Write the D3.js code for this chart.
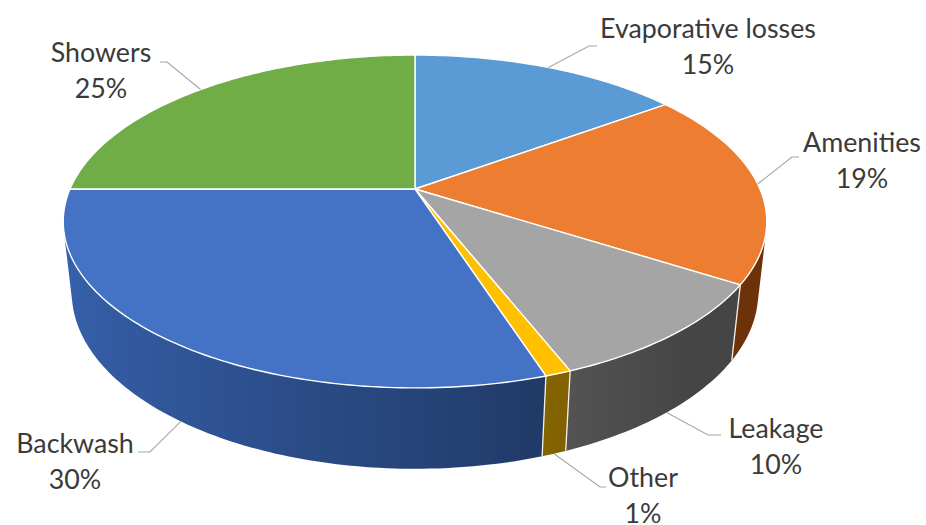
<!DOCTYPE html>
<html>
<head>
<meta charset="utf-8">
<script src="https://cdn.jsdelivr.net/npm/d3@7"></script>
<style>
  html, body { margin: 0; padding: 0; background: #ffffff; }
  svg { display: block; }
</style>
</head>
<body>
<svg id="chart" width="926" height="525"></svg>
<script>
// Pool water use breakdown (share of total, %)
const categories = ["Evaporative losses", "Amenities", "Leakage", "Other", "Backwash", "Showers"];
const shares = [15, 19, 10, 1, 30, 25];
const topColors = ["#5B9BD5", "#ED7D31", "#A5A5A5", "#FFC000", "#4472C4", "#70AD47"];

// Disc geometry and camera (perspective view of a flat cylinder)
const geo = { cx: 415, cy: 189, s: 345, D: 4.54, alpha: 27.65 * Math.PI / 180, h: 0.235 };

// Label placement: text centre, leader elbow points, and where on the slice the leader lands
const labelLayout = [
  { x: 708, y: 38, elbow: [[597, 46], [589, 46]], at: 0.5, rim: "top" },
  { x: 862, y: 152, elbow: [[799, 157], [792, 157]], at: 0.5, rim: "top" },
  { x: 776, y: 438, elbow: [[721, 435], [708, 435]], at: 0.5, rim: "bottom" },
  { x: 643, y: 487, elbow: [[606, 487], [600, 487]], at: 0.5, rim: "bottom" },
  { x: 75, y: 453, elbow: [[138, 452], [150, 452]], at: 0.5, rim: "bottom" },
  { x: 101, y: 62, elbow: [[160, 62], [167, 62]], at: 0.5, rim: "top" }
];

const svg = d3.select("#chart");
const defs = svg.append("defs");
const sa = Math.sin(geo.alpha), ca = Math.cos(geo.alpha);

// 3D point on the disc (angle clockwise from the back, height z) -> screen
function project(theta, z) {
  const X = Math.sin(theta), Y = -Math.cos(theta);
  const depth = geo.D - Y * ca - z * sa;
  const k = geo.D / depth;
  return [geo.cx + geo.s * X * k, geo.cy + geo.s * (Y * sa - z * ca) * k];
}

const pie = d3.pie().sort(null).value(d => d);
const arcs = pie(shares);
const line = d3.line();

// Front wall is only visible between the two tangent points seen from the camera
const phi = Math.acos(1 / (geo.D * ca));
const visLo = Math.PI - phi, visHi = Math.PI + phi;

// Side walls are lit from the left and darken towards the right
function shade(color, theta) {
  const f = Math.max(0.42, 0.6 - 0.27 * Math.sin(theta));
  const c = d3.hsl(color);
  c.l *= f;
  return c.formatHex();
}

const walls = svg.append("g");
arcs.forEach((a, i) => {
  const t0 = Math.max(a.startAngle, visLo), t1 = Math.min(a.endAngle, visHi);
  if (t1 <= t0) return;
  const n = Math.max(2, Math.ceil((t1 - t0) / (Math.PI / 180)));
  const ts = d3.range(n + 1).map(j => t0 + (t1 - t0) * j / n);
  const topEdge = ts.map(t => project(t, 0));
  const botEdge = ts.map(t => project(t, -geo.h)).reverse();

  const xA = topEdge[0][0], xB = topEdge[n][0];
  const gid = "wall-" + i;
  const grad = defs.append("linearGradient")
    .attr("id", gid)
    .attr("gradientUnits", "userSpaceOnUse")
    .attr("x1", xA).attr("y1", 0).attr("x2", xB).attr("y2", 0);
  ts.forEach((t, j) => {
    const off = Math.abs(xB - xA) < 1e-6 ? 0 : (topEdge[j][0] - xA) / (xB - xA);
    grad.append("stop")
      .attr("offset", Math.min(1, Math.max(0, off)))
      .attr("stop-color", shade(topColors[i], t));
  });

  walls.append("path")
    .attr("d", line(topEdge.concat(botEdge)) + "Z")
    .attr("fill", `url(#${gid})`);
});

// Seams between neighbouring walls
arcs.forEach(a => {
  const t = a.startAngle;
  if (t > visLo && t < visHi) {
    walls.append("path")
      .attr("d", line([project(t, 0), project(t, -geo.h)]))
      .attr("stroke", "#f4f1e4")
      .attr("stroke-width", 1.3)
      .attr("fill", "none");
  }
});

// Top faces
const tops = svg.append("g");
arcs.forEach((a, i) => {
  const pts = [[geo.cx, geo.cy]];
  const n = Math.max(2, Math.ceil((a.endAngle - a.startAngle) / (Math.PI / 180)));
  for (let j = 0; j <= n; j++) {
    const t = a.startAngle + (a.endAngle - a.startAngle) * j / n;
    pts.push(project(t, 0));
  }
  tops.append("path")
    .attr("d", line(pts) + "Z")
    .attr("fill", topColors[i])
    .attr("stroke", "#ffffff")
    .attr("stroke-width", 1.4)
    .attr("stroke-linejoin", "round");
});

// Labels and leader lines
const labels = svg.append("g")
  .attr("font-family", "Lato, 'Open Sans', sans-serif")
  .attr("fill", "#3a3a3a")
  .attr("text-anchor", "middle");

// Size the label font so the longest label spans its natural width
const probe = labels.append("text").attr("font-size", 20).text(categories[0]);
const fontSize = 20 * 216 / probe.node().getComputedTextLength();
probe.remove();
labels.attr("font-size", fontSize.toFixed(2));

const leaders = svg.append("g")
  .attr("fill", "none")
  .attr("stroke", "#a6a6a6")
  .attr("stroke-width", 1.1);

arcs.forEach((a, i) => {
  const L = labelLayout[i];
  const t = a.startAngle + (a.endAngle - a.startAngle) * L.at;
  const end = project(t, L.rim === "top" ? 0 : -geo.h);
  leaders.append("path").attr("d", line([...L.elbow, end]));
  const txt = labels.append("text").attr("x", L.x).attr("y", L.y);
  txt.append("tspan").attr("x", L.x).text(categories[i]);
  txt.append("tspan").attr("x", L.x).attr("dy", "1.33em").text(shares[i] + "%");
});
</script>
</body>
</html>
